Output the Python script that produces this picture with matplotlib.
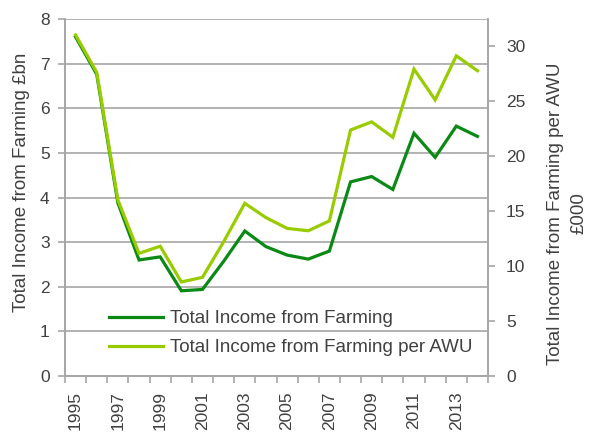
import numpy as np
import matplotlib
matplotlib.use('Agg')
import matplotlib.pyplot as plt

plt.rcParams['font.family'] = ['Liberation Sans', 'DejaVu Sans']

years = list(range(1995, 2015))
tifarm = [7.6, 6.76, 3.88, 2.6, 2.67, 1.91, 1.94, 2.57, 3.25, 2.9, 2.71, 2.62, 2.8,
          4.35, 4.47, 4.18, 5.44, 4.9, 5.6, 5.37]
tifarm_awu = [31.0, 27.6, 16.0, 11.15, 11.8, 8.55, 8.97, 12.2, 15.7, 14.4, 13.42, 13.2, 14.1,
              22.36, 23.1, 21.7, 27.9, 25.1, 29.1, 27.75]
label1 = 'Total Income from Farming'
label2 = 'Total Income from Farming per AWU'

dark = '#0A8A14'
light = '#99CC00'
grid = '#A6A6A6'
txt = '#404040'

fig = plt.figure(figsize=(5.98, 4.33), dpi=100)
ax = fig.add_axes([0.1087, 0.1316, 0.7074, 0.8245])
ax2 = ax.twinx()

x = np.arange(len(years))
l1, = ax.plot(x, tifarm, color=dark, lw=2.3, label=label1, solid_joinstyle='miter')
l2, = ax2.plot(x, tifarm_awu, color=light, lw=2.3, label=label2, solid_joinstyle='miter')

ax.set_xlim(-0.5, len(years) - 0.5)
ax.set_ylim(0, 8)
ax2.set_ylim(0, 32.45)
ax.set_yticks(range(0, 9))
ax2.set_yticks(range(0, 31, 5))
ax.yaxis.grid(True, color=grid, lw=1.2)
ax.set_axisbelow(True)

ax.set_xticks(x[::2])
ax.set_xticklabels([str(y) for y in years[::2]], rotation=90)
ax.set_xticks(np.arange(-0.5, len(years)), minor=True)
ax.tick_params(axis='x', which='major', length=0, pad=11, labelsize=12.5, labelcolor=txt)
ax.tick_params(axis='x', which='minor', length=5, width=1.2, color=grid)
ax.tick_params(axis='y', length=5, width=1.2, color=grid, labelsize=12.5, labelcolor=txt, pad=6)
ax2.tick_params(axis='y', length=5, width=1.2, color=grid, labelsize=12.5, labelcolor=txt, pad=8)

for a in (ax, ax2):
    for s in a.spines.values():
        s.set_color(grid)
        s.set_linewidth(1.2)
    a.spines['top'].set_visible(False)

# axis titles placed in figure coords
fig.text(21.7 / 598, 1 - 182.5 / 433, 'Total Income from Farming £bn', fontsize=13.5,
         color=txt, rotation=90, ha='center', va='center')
fig.text(567.5 / 598, 1 - 213.5 / 433, 'Total Income from Farming per AWU\n£000', fontsize=13.5,
         color=txt, rotation=90, ha='center', va='center', multialignment='center',
         linespacing=1.5)

leg = ax.legend([l1, l2], [label1, label2], loc='center left', bbox_to_anchor=(0.104, 0.12),
                frameon=False, fontsize=13.5, handlelength=2.9, handletextpad=0.35,
                labelspacing=0.65, borderpad=0, borderaxespad=0)
for t in leg.get_texts():
    t.set_color(txt)

fig.savefig('out.png', dpi=100)
